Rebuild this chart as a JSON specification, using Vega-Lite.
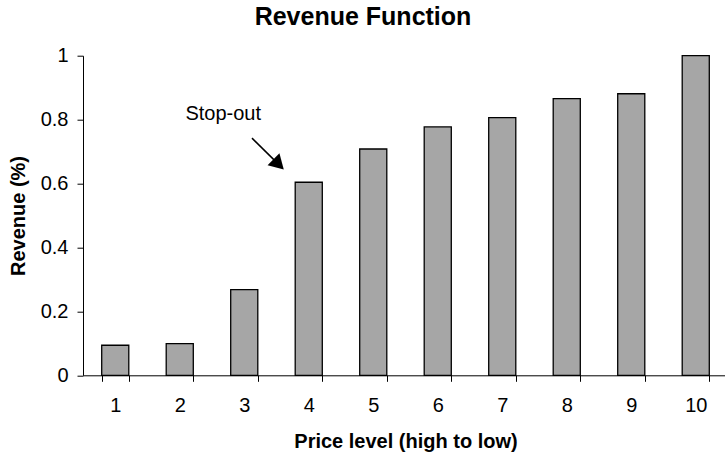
{
  "$schema": "https://vega.github.io/schema/vega-lite/v6.json",
  "width": 642,
  "height": 319.6,
  "autosize": {"type": "none"},
  "padding": {"left": 83, "top": 55.7, "right": 0, "bottom": 80.7},
  "background": "white",
  "title": {
    "text": "Revenue Function",
    "font": "Liberation Sans",
    "fontSize": 25,
    "fontWeight": "bold",
    "color": "black",
    "anchor": "middle",
    "frame": "group",
    "baseline": "alphabetic",
    "dx": -41,
    "offset": -4
  },
  "config": {
    "view": {"stroke": null},
    "font": "Liberation Sans",
    "axis": {
      "labelFont": "Liberation Sans",
      "titleFont": "Liberation Sans",
      "labelColor": "black",
      "titleColor": "black",
      "domainColor": "black",
      "tickColor": "black",
      "domainWidth": 1,
      "tickWidth": 1,
      "tickSize": 6,
      "labelFontSize": 20,
      "titleFontSize": 20,
      "titleFontWeight": "bold",
      "grid": false
    }
  },
  "data": {
    "values": [
      {"level": 1, "revenue": 0.094},
      {"level": 2, "revenue": 0.099},
      {"level": 3, "revenue": 0.268},
      {"level": 4, "revenue": 0.604},
      {"level": 5, "revenue": 0.708},
      {"level": 6, "revenue": 0.777},
      {"level": 7, "revenue": 0.806},
      {"level": 8, "revenue": 0.866},
      {"level": 9, "revenue": 0.881},
      {"level": 10, "revenue": 1.0}
    ]
  },
  "layer": [
    {
      "mark": {"type": "bar", "fill": "#a6a6a6", "stroke": "black", "strokeWidth": 1.3},
      "encoding": {
        "x": {
          "field": "level",
          "type": "ordinal",
          "scale": {"range": [0, 645], "paddingInner": 0.58, "paddingOuter": 0.29},
          "axis": {
            "title": "Price level (high to low)",
            "labelAngle": 0,
            "tickBand": "extent",
            "labelPadding": 14,
            "titlePadding": 16
          }
        },
        "y": {
          "field": "revenue",
          "type": "quantitative",
          "scale": {"domain": [0, 1], "nice": false},
          "axis": {
            "title": "Revenue (%)",
            "values": [0, 0.2, 0.4, 0.6, 0.8, 1],
            "format": "~g",
            "labelPadding": 9,
            "titlePadding": 12
          }
        }
      }
    },
    {
      "data": {"values": [{"x": 3.12, "y": 0.742, "x2": 3.533, "y2": 0.66}]},
      "mark": {"type": "rule", "color": "black", "strokeWidth": 1.5},
      "encoding": {
        "x": {"field": "x", "type": "quantitative", "scale": {"domain": [0.5, 10.5], "range": [0, 645]}, "axis": null},
        "y": {"field": "y", "type": "quantitative", "title": "Revenue (%)"},
        "x2": {"field": "x2"},
        "y2": {"field": "y2"}
      }
    },
    {
      "data": {"values": [{"x": 3.533, "y": 0.66}]},
      "mark": {"type": "point", "shape": "triangle-up", "angle": 135, "size": 282, "filled": true, "color": "black", "opacity": 1},
      "encoding": {
        "x": {"field": "x", "type": "quantitative", "scale": {"domain": [0.5, 10.5], "range": [0, 645]}, "axis": null},
        "y": {"field": "y", "type": "quantitative", "title": "Revenue (%)"}
      }
    },
    {
      "data": {"values": [{"x": 2.674, "y": 0.8, "label": "Stop-out"}]},
      "mark": {"type": "text", "align": "center", "baseline": "alphabetic", "fontSize": 20, "color": "black", "font": "Liberation Sans"},
      "encoding": {
        "x": {"field": "x", "type": "quantitative", "scale": {"domain": [0.5, 10.5], "range": [0, 645]}, "axis": null},
        "y": {"field": "y", "type": "quantitative", "title": "Revenue (%)"},
        "text": {"field": "label"}
      }
    }
  ],
  "resolve": {"scale": {"x": "independent"}, "axis": {"x": "independent"}}
}
